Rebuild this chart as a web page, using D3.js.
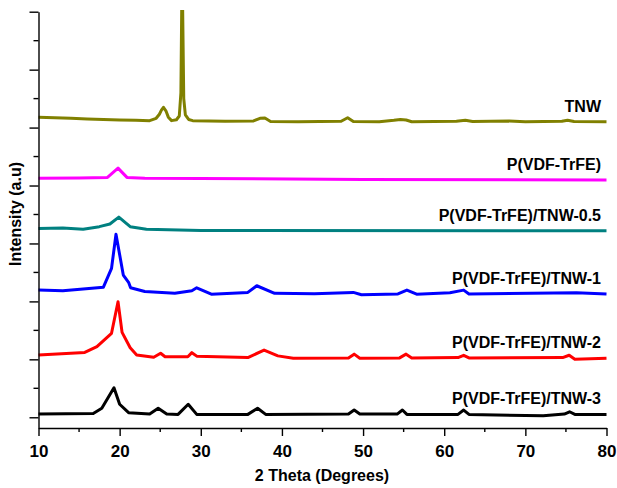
<!DOCTYPE html>
<html lang="en">
<head>
  <meta charset="UTF-8">
  <title>XRD patterns</title>
  <script src="https://d3js.org/d3.v7.min.js"></script>
  <style>
    body, html {
      margin: 0;
      padding: 0;
      background: #fff;
    }
    svg {
      display: block;
      font-family: "Liberation Sans", Arial, sans-serif;
    }
    .series {
      fill: none;
      stroke-width: 3px;
      stroke-linejoin: round;
    }
    .axis path, .axis line {
      stroke: #000;
      stroke-width: 1.4px;
    }
    .tick-label {
      font-size: 17px;
      font-weight: bold;
    }
    .series-label {
      font-size: 16px;
      font-weight: bold;
    }
  </style>
</head>
<body>
  <svg width="617" height="488"></svg>
  <script>
    // series names, top to bottom
    const names = ['TNW', 'P(VDF-TrFE)', 'P(VDF-TrFE)/TNW-0.5',
                   'P(VDF-TrFE)/TNW-1', 'P(VDF-TrFE)/TNW-2', 'P(VDF-TrFE)/TNW-3'];
    const colors = ['#808000', '#ff00ff', '#008080', '#0000ff', '#ff0000', '#000000'];

    // [2 theta, stacked intensity]
    const tnw = [[10,5180],[12,5170],[14,5160],[16,5150],[18,5140],[20,5130],[22,5125],[23.7,5120],
      [24.5,5160],[24.9,5230],[25.15,5300],[25.4,5350],[25.7,5290],[26.0,5180],[26.4,5120],[27.0,5135],
      [27.35,5200],[27.55,5600],[27.7,7800],[27.9,5500],[28.1,5220],[28.5,5140],[29,5120],[33,5110],
      [36.5,5115],[37.3,5160],[37.9,5165],[38.6,5105],[42,5100],[47.3,5110],[48.1,5170],[48.8,5105],
      [52,5100],[53.8,5125],[54.6,5140],[55.3,5130],[56,5100],[61.5,5110],[62.6,5125],[63.5,5105],
      [68,5112],[70,5100],[74.5,5110],[75.2,5128],[76,5105],[80,5102]];
    const pvdf = [[10,4125],[15,4130],[18.5,4140],[19.8,4300],[20.9,4140],[23.1,4125],[50,4105],[80,4095]];
    const tnw05 = [[10,3260],[13,3268],[15.5,3245],[17.5,3290],[18.8,3335],[19.9,3455],[21.3,3290],
      [23.3,3245],[30,3225],[80,3220]];
    const tnw1 = [[10,2195],[13,2185],[18.0,2245],[19.0,2570],[19.55,3160],[20.45,2455],[21.1,2330],
      [21.35,2235],[23.1,2170],[26.8,2140],[28.9,2185],[29.5,2235],[31.3,2125],[35.8,2155],[36.9,2270],
      [39.1,2140],[44,2130],[48.8,2155],[49.8,2115],[54.3,2128],[55.4,2195],[56.6,2125],[60.7,2150],
      [62.4,2195],[63.05,2128],[76.3,2150],[80,2128]];
    const tnw2 = [[10,1075],[15.7,1120],[17.2,1220],[19.0,1450],[19.8,1995],[20.3,1465],[21.3,1200],
      [22.1,1075],[24.2,1035],[25.05,1105],[25.6,1045],[28.4,1045],[28.9,1115],[29.5,1055],[35.8,1030],
      [37.8,1160],[39.5,1060],[41.4,1020],[48.2,1025],[48.9,1090],[49.6,1020],[54.5,1025],[55.3,1090],
      [56.0,1025],[61.7,1030],[62.4,1070],[63.05,1025],[74.6,1030],[75.4,1070],[76.1,1000],[80,1018]];
    const tnw3 = [[10,55],[16.75,65],[17.8,155],[19.3,510],[20.0,225],[21.1,80],[23.7,55],[24.75,155],
      [25.8,55],[27.2,50],[28.45,225],[29.5,50],[35.8,50],[37.0,155],[38.0,50],[48.2,55],[48.9,125],
      [49.6,55],[54.2,55],[54.85,125],[55.4,50],[61.7,50],[62.4,125],[63.05,50],[72.2,25],[74.8,55],
      [75.45,95],[76.1,50],[80,50]];
    const seriesData = [tnw, pvdf, tnw05, tnw1, tnw2, tnw3];

    const xTicks = [10, 20, 30, 40, 50, 60, 70, 80];
    const xMinor = [15, 25, 35, 45, 55, 65, 75];
    const yTicks = [0, 1000, 2000, 3000, 4000, 5000, 6000, 7000];
    const yMinor = [500, 1500, 2500, 3500, 4500, 5500, 6500];

    const svg = d3.select('svg');
    const x = d3.scaleLinear().domain([10, 80]).range([38.5, 606.5]);
    const y = d3.scaleLinear().domain([-185, 7000]).range([428, 11.7]);

    svg.append('defs').append('clipPath').attr('id', 'plot')
      .append('rect').attr('x', 30).attr('y', 10).attr('width', 590).attr('height', 420);

    const line = d3.line().x(d => x(d[0])).y(d => y(d[1]));

    const g = svg.append('g').attr('clip-path', 'url(#plot)');
    g.selectAll('path')
      .data(seriesData)
      .join('path')
      .attr('class', 'series')
      .attr('stroke', (d, i) => colors[i])
      .attr('d', line);

    // labels sit just above the right end of each trace
    svg.selectAll('.series-label')
      .data(seriesData)
      .join('text')
      .attr('class', 'series-label')
      .attr('text-anchor', 'end')
      .attr('x', 601)
      .attr('y', d => y(d[d.length - 1][1]) - 10)
      .text((d, i) => names[i]);

    // x axis
    const xAxis = svg.append('g').attr('class', 'axis').attr('transform', 'translate(0,428)');
    xAxis.call(d3.axisBottom(x).tickValues(xTicks).tickSize(8).tickSizeOuter(0).tickFormat(d3.format('d')));
    xAxis.selectAll('text').attr('class', 'tick-label').attr('fill', '#000').attr('dy', '1.05em');
    xAxis.append('g').selectAll('line').data(xMinor).join('line')
      .attr('x1', d => x(d)).attr('x2', d => x(d)).attr('y1', 0).attr('y2', 4);

    // y axis, no labels
    const yAxis = svg.append('g').attr('class', 'axis').attr('transform', 'translate(38.5,0)');
    yAxis.call(d3.axisLeft(y).tickValues(yTicks).tickSize(9).tickSizeOuter(0).tickFormat(''));
    yAxis.append('g').selectAll('line').data(yMinor).join('line')
      .attr('x1', 0).attr('x2', -5).attr('y1', d => y(d)).attr('y2', d => y(d));

    svg.append('text')
      .attr('x', 322).attr('y', 481)
      .attr('text-anchor', 'middle')
      .style('font-size', '16px').style('font-weight', 'bold')
      .text('2 Theta (Degrees)');

    svg.append('text')
      .attr('transform', 'translate(21,214) rotate(-90)')
      .attr('text-anchor', 'middle')
      .style('font-size', '16px').style('font-weight', 'bold')
      .text('Intensity (a.u)');
  </script>
</body>
</html>
